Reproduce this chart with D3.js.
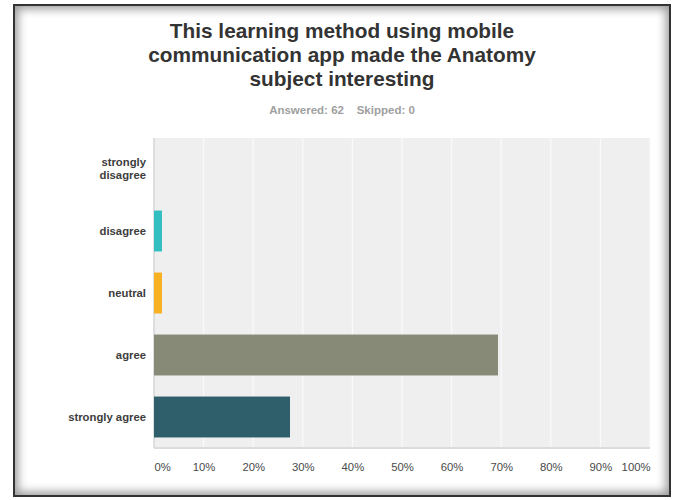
<!DOCTYPE html>
<html>
<head>
<meta charset="utf-8">
<script src="https://cdn.jsdelivr.net/npm/d3@7"></script>
<style>
  html, body { margin: 0; padding: 0; background: #fff; }
  #frame {
    position: absolute; left: 13px; top: 4px; width: 654px; height: 489px;
    border: 2px solid #333;
    box-shadow: inset 0 0 10px 3px rgba(0,0,0,0.4);
  }
  svg { position: absolute; left: 0; top: 0; }
</style>
</head>
<body>
<div id="frame"></div>
<svg id="chart" width="673" height="500"></svg>
<script>
// Survey responses (n = 62)
const categories = ["strongly disagree", "disagree", "neutral", "agree", "strongly agree"];
const percents = [0, 1.61, 1.61, 69.35, 27.42];
const barColors = ["#c9c9c9", "#33bfc0", "#f8b122", "#888a78", "#2f5f6b"];
const tickValues = [0, 10, 20, 30, 40, 50, 60, 70, 80, 90, 100];
const titleLines = ["This learning method using mobile", "communication app made the Anatomy", "subject interesting"];
const subtitle = "Answered: 62    Skipped: 0";

const svg = d3.select("#chart");
const font = "Arial, 'Liberation Sans', sans-serif";

const plot = { left: 154, right: 650, top: 138, bottom: 448 };

const x = d3.scaleLinear().domain([0, 100]).range([plot.left, plot.right]);
const y = d3.scaleBand().domain(categories).range([plot.top, plot.bottom]).paddingInner(0.34).paddingOuter(0.17);

// Title
svg.append("g").selectAll("text").data(titleLines).join("text")
  .attr("x", 342).attr("y", (d, i) => 37.5 + i * 24)
  .attr("text-anchor", "middle")
  .attr("font-family", font).attr("font-size", 20.8).attr("font-weight", "bold")
  .attr("fill", "#333")
  .text(d => d);

svg.append("text")
  .attr("x", 342).attr("y", 114)
  .attr("text-anchor", "middle")
  .attr("font-family", font).attr("font-size", 11.5).attr("font-weight", "bold")
  .attr("fill", "#a0a0a0")
  .attr("xml:space", "preserve")
  .style("white-space", "pre")
  .text(subtitle);

// Plot background
svg.append("rect")
  .attr("x", plot.left).attr("y", plot.top)
  .attr("width", plot.right - plot.left).attr("height", plot.bottom - plot.top)
  .attr("fill", "#efefef");

// Vertical gridlines
svg.append("g").selectAll("line").data(tickValues.slice(1)).join("line")
  .attr("x1", d => x(d)).attr("x2", d => x(d))
  .attr("y1", plot.top).attr("y2", plot.bottom)
  .attr("stroke", "#fafafa").attr("stroke-width", 1.2);

// Left edge and baseline
svg.append("line")
  .attr("x1", plot.left).attr("x2", plot.left)
  .attr("y1", plot.top).attr("y2", plot.bottom)
  .attr("stroke", "#d6d6d6").attr("stroke-width", 1.5);
svg.append("line")
  .attr("x1", plot.left).attr("x2", plot.right)
  .attr("y1", plot.bottom).attr("y2", plot.bottom)
  .attr("stroke", "#dcdcdc").attr("stroke-width", 2);

// Bars
svg.append("g").selectAll("rect").data(categories).join("rect")
  .attr("x", x(0))
  .attr("y", d => y(d))
  .attr("width", (d, i) => x(percents[i]) - x(0))
  .attr("height", y.bandwidth())
  .attr("fill", (d, i) => barColors[i]);

// Category labels
const yAxis = d3.axisLeft(y).tickSize(0).tickPadding(8);
const yg = svg.append("g").attr("transform", `translate(${plot.left},0)`).call(yAxis);
yg.select(".domain").remove();
yg.selectAll("text")
  .attr("font-family", font).attr("font-size", 11.3).attr("font-weight", "bold")
  .attr("fill", "#3d3d3d")
  .each(function(d) {
    const t = d3.select(this);
    if (d === "strongly disagree") {
      t.text(null);
      t.append("tspan").attr("x", -8).attr("dy", "-0.3em").text("strongly");
      t.append("tspan").attr("x", -8).attr("dy", "1.15em").text("disagree");
    }
  });

// Percentage axis
const xAxis = d3.axisBottom(x).tickValues(tickValues).tickSize(0).tickPadding(0)
  .tickFormat(d => d + "%");
const xg = svg.append("g").attr("transform", `translate(0,${plot.bottom + 15})`).call(xAxis);
xg.select(".domain").remove();
xg.selectAll("text")
  .attr("font-family", font).attr("font-size", 11.3)
  .attr("fill", "#4a4a4a")
  .attr("text-anchor", d => d === 0 ? "start" : d === 100 ? "end" : "middle");
</script>
</body>
</html>
